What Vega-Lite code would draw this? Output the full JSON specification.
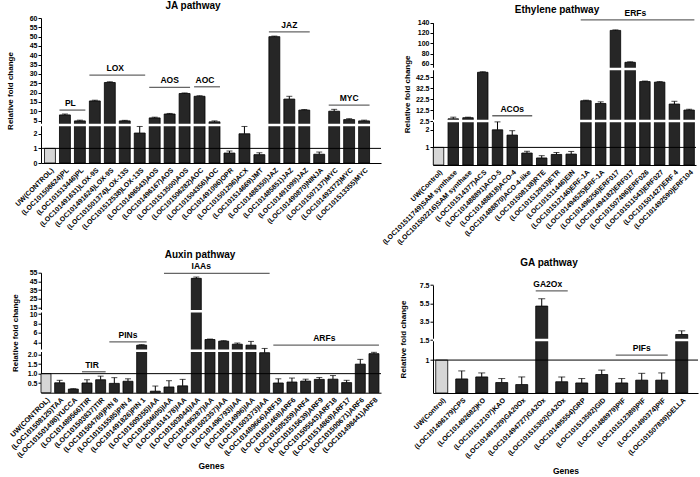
{
  "$schema": "https://vega.github.io/schema/vega-lite/v6.json",
  "padding": {"left": 6, "top": 1, "right": 0, "bottom": 0},
  "config": {
    "font": "Liberation Sans",
    "view": {"stroke": null},
    "axis": {"grid": false, "domainColor": "black", "tickColor": "black", "labelColor": "black", "titleColor": "black", "labelFontWeight": "bold", "titleFontWeight": "bold", "domainWidth": 1, "labelFont": "Liberation Sans", "titleFont": "Liberation Sans", "labelOverlap": false},
    "axisX": {"labelAngle": -45, "labelFontSize": 7, "ticks": false, "labelPadding": 3, "titleFontSize": 8.5, "titlePadding": 6, "labelOverlap": false},
    "axisY": {"labelFontSize": 7, "tickSize": 3, "titleFontSize": 8, "titlePadding": 4, "labelPadding": 1, "labelOverlap": false},
    "title": {"fontSize": 10, "fontWeight": "bold", "color": "black", "font": "Liberation Sans", "frame": "group", "anchor": "middle"},
    "text": {"font": "Liberation Sans"}
  },
  "datasets": {
    "ja": [
      {"gene": "UW(CONTROL)", "kind": "control", "v": 1},
      {"gene": "(LOC101508624)PL", "kind": "gene", "v": 8, "hi": 8.5},
      {"gene": "(LOC101513446)PL", "kind": "gene", "v": 4.8, "hi": 5.2},
      {"gene": "(LOC101491631)LOX-9S", "kind": "gene", "v": 15.5, "hi": 15.9},
      {"gene": "(LOC101491624)LOX-9S", "kind": "gene", "v": 25.4, "hi": 25.8},
      {"gene": "(LOC101501374)LOX-13S", "kind": "gene", "v": 4.8, "hi": 5.1},
      {"gene": "(LOC101512538)LOX-13S", "kind": "gene", "v": 2.05, "hi": 2.5},
      {"gene": "(LOC101496543)AOS", "kind": "gene", "v": 6.4, "hi": 6.8},
      {"gene": "(LOC101496167)AOS", "kind": "gene", "v": 8.5, "hi": 8.8},
      {"gene": "(LOC101513500)AOS", "kind": "gene", "v": 19.5, "hi": 19.8},
      {"gene": "(LOC101506282)AOC", "kind": "gene", "v": 18, "hi": 18.3},
      {"gene": "(LOC101504356)AOC", "kind": "gene", "v": 4.3, "hi": 4.8},
      {"gene": "(LOC101491096)OPR", "kind": "gene", "v": 0.68, "hi": 0.82},
      {"gene": "(LOC101501296)ACX", "kind": "gene", "v": 2.0, "hi": 2.5},
      {"gene": "(LOC101514669)JMT", "kind": "gene", "v": 0.57, "hi": 0.7},
      {"gene": "(LOC101488350)JAZ", "kind": "gene", "v": 50, "hi": 50.3},
      {"gene": "(LOC101485851)JAZ", "kind": "gene", "v": 16.5, "hi": 18},
      {"gene": "(LOC101491099)JAZ", "kind": "gene", "v": 10.6, "hi": 10.9},
      {"gene": "(LOC101490870)NINJA", "kind": "gene", "v": 0.6, "hi": 0.75},
      {"gene": "(LOC101507137)MYC", "kind": "gene", "v": 10, "hi": 11},
      {"gene": "(LOC101493372)MYC", "kind": "gene", "v": 5.5, "hi": 6},
      {"gene": "(LOC101513355)MYC", "kind": "gene", "v": 4.8, "hi": 5.2}
    ],
    "ja_ann": [
      {"g": "PL", "from": "(LOC101508624)PL", "to": "(LOC101513446)PL", "mid": "(LOC101508624)PL", "even": true, "y": 10.6},
      {"g": "LOX", "from": "(LOC101491631)LOX-9S", "to": "(LOC101512538)LOX-13S", "mid": "(LOC101491624)LOX-9S", "even": true, "y": 29.4},
      {"g": "AOS", "from": "(LOC101496543)AOS", "to": "(LOC101513500)AOS", "mid": "(LOC101496167)AOS", "even": false, "y": 22.8},
      {"g": "AOC", "from": "(LOC101506282)AOC", "to": "(LOC101504356)AOC", "mid": "(LOC101506282)AOC", "even": true, "y": 23.1},
      {"g": "JAZ", "from": "(LOC101488350)JAZ", "to": "(LOC101491099)JAZ", "mid": "(LOC101485851)JAZ", "even": false, "y": 52.6},
      {"g": "MYC", "from": "(LOC101507137)MYC", "to": "(LOC101513355)MYC", "mid": "(LOC101493372)MYC", "even": false, "y": 13.3}
    ],
    "eth": [
      {"gene": "UW(Control)", "kind": "control", "v": 1},
      {"gene": "(LOC101511749)SAM synthase", "kind": "gene", "v": 4.5, "hi": 6.0},
      {"gene": "(LOC101502216)SAM synthase", "kind": "gene", "v": 5.5, "hi": 6.0},
      {"gene": "(LOC101514377)ACS", "kind": "gene", "v": 47, "hi": 47.5},
      {"gene": "(LOC101488891)ACO-5", "kind": "gene", "v": 2.0, "hi": 2.45},
      {"gene": "(LOC101488818)ACO-4", "kind": "gene", "v": 1.7, "hi": 1.95},
      {"gene": "(LOC101488870)ACO-4-like", "kind": "gene", "v": 0.68, "hi": 0.78},
      {"gene": "(LOC101508138)RTE", "kind": "gene", "v": 0.4, "hi": 0.53},
      {"gene": "(LOC101512933)ETR", "kind": "gene", "v": 0.6, "hi": 0.71},
      {"gene": "(LOC101511446)EIN", "kind": "gene", "v": 0.62, "hi": 0.77},
      {"gene": "(LOC101512146)ERF-1A", "kind": "gene", "v": 21, "hi": 21.5},
      {"gene": "(LOC101494525)ERF-1A", "kind": "gene", "v": 18.5, "hi": 20},
      {"gene": "(LOC101496256)ERF017", "kind": "gene", "v": 125, "hi": 126},
      {"gene": "(LOC101494182)ERF017", "kind": "gene", "v": 63, "hi": 64},
      {"gene": "(LOC101507496)ERF026", "kind": "gene", "v": 38.5, "hi": 39},
      {"gene": "(LOC101511543)ERF027", "kind": "gene", "v": 38, "hi": 38.5},
      {"gene": "(LOC101501427)ERF 4", "kind": "gene", "v": 18, "hi": 20.5},
      {"gene": "(LOC101492590)ERF104", "kind": "gene", "v": 12.5, "hi": 13.3}
    ],
    "eth_ann": [
      {"g": "ACOs", "from": "(LOC101488891)ACO-5", "to": "(LOC101488870)ACO-4-like", "mid": "(LOC101488818)ACO-4", "even": false, "y": 7.3},
      {"g": "ERFs", "from": "(LOC101512146)ERF-1A", "to": "(LOC101492590)ERF104", "mid": "(LOC101494182)ERF017", "even": true, "y": 145.3}
    ],
    "aux": [
      {"gene": "UW(CONTROL)", "kind": "control", "v": 1},
      {"gene": "(LOC101508125)TAA", "kind": "gene", "v": 0.52, "hi": 0.65},
      {"gene": "(LOC101501498)YUCCA", "kind": "gene", "v": 0.19, "hi": 0.21},
      {"gene": "(LOC101489566)TIR", "kind": "gene", "v": 0.51, "hi": 0.68},
      {"gene": "(LOC101503837)TIR", "kind": "gene", "v": 0.68, "hi": 0.87},
      {"gene": "(LOC101504769)PIN 8", "kind": "gene", "v": 0.49, "hi": 0.79},
      {"gene": "(LOC101515585)PIN 4", "kind": "gene", "v": 0.6, "hi": 0.73},
      {"gene": "(LOC101491826)PIN 1", "kind": "gene", "v": 3.4, "hi": 3.5},
      {"gene": "(LOC101509355)IAA", "kind": "gene", "v": 0.08, "hi": 0.35},
      {"gene": "(LOC101504605)IAA", "kind": "gene", "v": 0.3, "hi": 0.63},
      {"gene": "(LOC101514178)IAA", "kind": "gene", "v": 0.36, "hi": 0.7},
      {"gene": "(LOC101503044)IAA", "kind": "gene", "v": 48.5, "hi": 50},
      {"gene": "(LOC101495287)IAA", "kind": "gene", "v": 4.6, "hi": 4.7},
      {"gene": "(LOC101502357)IAA", "kind": "gene", "v": 4.25, "hi": 4.35},
      {"gene": "(LOC101496793)IAA", "kind": "gene", "v": 3.6, "hi": 3.85},
      {"gene": "(LOC101514996)IAA", "kind": "gene", "v": 3.4, "hi": 4.2},
      {"gene": "(LOC101503373)IAA", "kind": "gene", "v": 2.1, "hi": 2.7},
      {"gene": "(LOC101489666)ARF19", "kind": "gene", "v": 0.51, "hi": 0.73},
      {"gene": "(LOC101501468)ARF6", "kind": "gene", "v": 0.56, "hi": 0.77},
      {"gene": "(LOC101505359)ARF4", "kind": "gene", "v": 0.61, "hi": 0.71},
      {"gene": "(LOC101515639)ARF9", "kind": "gene", "v": 0.7, "hi": 0.8},
      {"gene": "(LOC101505543)ARF18", "kind": "gene", "v": 0.71, "hi": 0.9},
      {"gene": "(LOC101514869)ARF17", "kind": "gene", "v": 0.53, "hi": 0.65},
      {"gene": "(LOC101500671)ARF6", "kind": "gene", "v": 1.5, "hi": 1.75},
      {"gene": "(LOC101498441)ARF8", "kind": "gene", "v": 2.05, "hi": 2.12}
    ],
    "aux_ann": [
      {"g": "TIR", "from": "(LOC101489566)TIR", "to": "(LOC101503837)TIR", "mid": "(LOC101489566)TIR", "even": true, "y": 1.1},
      {"g": "PINs", "from": "(LOC101504769)PIN 8", "to": "(LOC101491826)PIN 1", "mid": "(LOC101515585)PIN 4", "even": false, "y": 4.1},
      {"g": "IAAs", "from": "(LOC101504605)IAA", "to": "(LOC101503373)IAA", "mid": "(LOC101503044)IAA", "even": true, "y": 54.3},
      {"g": "ARFs", "from": "(LOC101489666)ARF19", "to": "(LOC101498441)ARF8", "mid": "(LOC101515639)ARF9", "even": true, "y": 3.4}
    ],
    "ga": [
      {"gene": "UW(Control)", "kind": "control", "v": 1},
      {"gene": "(LOC101496179)CPS", "kind": "gene", "v": 0.53, "hi": 0.73},
      {"gene": "(LOC101492682)KO", "kind": "gene", "v": 0.58, "hi": 0.68},
      {"gene": "(LOC101512107)KAO", "kind": "gene", "v": 0.44, "hi": 0.54},
      {"gene": "(LOC101491329)GA20Ox", "kind": "gene", "v": 0.39, "hi": 0.58},
      {"gene": "(LOC101494727)GA2Ox", "kind": "gene", "v": 5.2, "hi": 6.0},
      {"gene": "(LOC101515302)GA2Ox", "kind": "gene", "v": 0.46, "hi": 0.58},
      {"gene": "(LOC101495554)GRP", "kind": "gene", "v": 0.43, "hi": 0.54},
      {"gene": "(LOC101513592)GID", "kind": "gene", "v": 0.64, "hi": 0.75},
      {"gene": "(LOC101488979)PIF", "kind": "gene", "v": 0.43, "hi": 0.54},
      {"gene": "(LOC101512389)PIF", "kind": "gene", "v": 0.5, "hi": 0.67},
      {"gene": "(LOC101490374)PIF", "kind": "gene", "v": 0.5, "hi": 0.68},
      {"gene": "(LOC101507839)DELLA", "kind": "gene", "v": 2.1, "hi": 2.5}
    ],
    "ga_ann": [
      {"g": "GA2Ox", "from": "(LOC101494727)GA2Ox", "to": "(LOC101515302)GA2Ox", "mid": "(LOC101494727)GA2Ox", "even": true, "y": 6.85},
      {"g": "PIFs", "from": "(LOC101488979)PIF", "to": "(LOC101490374)PIF", "mid": "(LOC101512389)PIF", "even": false, "y": 1.125}
    ]
  },
  "bounds": "flush",
  "align": "each",
  "columns": 2,
  "spacing": {"row": 107.7, "column": 52},
  "concat": [
    {
      "title": {"text": "JA pathway", "dx": -18, "offset": 3},
      "width": 340, "height": 145,
      "layer": [
        {"data": {"name": "ja"}, "mark": {"type": "bar", "stroke": "black", "strokeWidth": 0.8},
         "encoding": {
           "x": {"field": "gene", "type": "nominal", "sort": null, "title": null, "scale": {"paddingInner": 0.27, "paddingOuter": 0.5, "align": 0.235}},
           "y": {"field": "v", "type": "quantitative", "title": "Relative fold change", "scale": {"domain": [0, 2.6, 60], "range": [145, 107, 0], "zero": false, "nice": false}, "axis": {"values": [0, 1, 2, 5, 10, 15, 20, 25, 30, 35, 40, 45, 50, 55, 60], "tickCount": 100, "labelExpr": "datum.value + ''", "labelOverlap": false, "titlePadding": 15}},
           "y2": {"datum": 0},
           "color": {"field": "kind", "type": "nominal", "scale": {"domain": ["control", "gene"], "range": ["#d6d6d6", "#262626"]}, "legend": null}
         }},
        {"data": {"values": [{}]}, "mark": {"type": "rule", "color": "white", "strokeWidth": 2.5}, "encoding": {"y": {"datum": 2.6, "type": "quantitative"}}},
        {"data": {"values": [{}]}, "mark": {"type": "rule", "color": "black", "strokeWidth": 1}, "encoding": {"y": {"datum": 1, "type": "quantitative"}}},
        {"data": {"name": "ja"}, "transform": [{"filter": "isValid(datum.hi)"}], "mark": {"type": "rule", "color": "black", "strokeWidth": 1}, "encoding": {"x": {"field": "gene", "type": "nominal", "sort": null}, "y": {"field": "v", "type": "quantitative"}, "y2": {"field": "hi"}}},
        {"data": {"name": "ja"}, "transform": [{"filter": "isValid(datum.hi)"}], "mark": {"type": "tick", "color": "black", "thickness": 1, "size": 6}, "encoding": {"x": {"field": "gene", "type": "nominal", "sort": null}, "y": {"field": "hi", "type": "quantitative"}}},
        {"data": {"name": "ja_ann"}, "mark": {"type": "rule", "color": "#666666", "strokeWidth": 1.3}, "encoding": {"x": {"field": "from", "type": "nominal", "sort": null, "bandPosition": 0}, "x2": {"field": "to", "bandPosition": 1}, "y": {"field": "y", "type": "quantitative"}}},
        {"data": {"name": "ja_ann"}, "transform": [{"filter": "datum.even"}], "mark": {"type": "text", "baseline": "bottom", "dy": -2, "fontSize": 8.5, "fontWeight": "bold"}, "encoding": {"x": {"field": "mid", "type": "nominal", "sort": null, "bandPosition": 1}, "y": {"field": "y", "type": "quantitative"}, "text": {"field": "g"}}},
        {"data": {"name": "ja_ann"}, "transform": [{"filter": "!datum.even"}], "mark": {"type": "text", "baseline": "bottom", "dy": -2, "fontSize": 8.5, "fontWeight": "bold"}, "encoding": {"x": {"field": "mid", "type": "nominal", "sort": null, "bandPosition": 0.5}, "y": {"field": "y", "type": "quantitative"}, "text": {"field": "g"}}}
      ]
    },
    {
      "title": {"text": "Ethylene pathway", "dx": -7.5, "offset": 3, "dy": 9},
      "width": 263, "height": 147,
      "layer": [
        {"data": {"name": "eth"}, "mark": {"type": "bar", "stroke": "black", "strokeWidth": 0.8},
         "encoding": {
           "x": {"field": "gene", "type": "nominal", "sort": null, "title": null, "scale": {"paddingInner": 0.29, "paddingOuter": 0.065, "align": 0.15}},
           "y": {"field": "v", "type": "quantitative", "title": "Relative fold change", "scale": {"domain": [0, 2.5, 50, 140], "range": [147, 103, 51, 4.7], "zero": false, "nice": false}, "axis": {"values": [1, 2, 2.5, 12.5, 22.5, 32.5, 42.5, 60, 80, 100, 120, 140], "tickCount": 100, "labelExpr": "datum.value + ''", "labelOverlap": false, "titlePadding": 4}},
           "y2": {"datum": 0},
           "color": {"field": "kind", "type": "nominal", "scale": {"domain": ["control", "gene"], "range": ["#d6d6d6", "#262626"]}, "legend": null}
         }},
        {"data": {"values": [{}]}, "mark": {"type": "rule", "color": "white", "strokeWidth": 2.5}, "encoding": {"y": {"datum": 2.5, "type": "quantitative"}}},
        {"data": {"values": [{}]}, "mark": {"type": "rule", "color": "white", "strokeWidth": 2.5}, "encoding": {"y": {"datum": 50, "type": "quantitative"}}},
        {"data": {"values": [{}]}, "mark": {"type": "rule", "color": "black", "strokeWidth": 1}, "encoding": {"y": {"datum": 1, "type": "quantitative"}}},
        {"data": {"name": "eth"}, "transform": [{"filter": "isValid(datum.hi)"}], "mark": {"type": "rule", "color": "black", "strokeWidth": 1}, "encoding": {"x": {"field": "gene", "type": "nominal", "sort": null}, "y": {"field": "v", "type": "quantitative"}, "y2": {"field": "hi"}}},
        {"data": {"name": "eth"}, "transform": [{"filter": "isValid(datum.hi)"}], "mark": {"type": "tick", "color": "black", "thickness": 1, "size": 6}, "encoding": {"x": {"field": "gene", "type": "nominal", "sort": null}, "y": {"field": "hi", "type": "quantitative"}}},
        {"data": {"name": "eth_ann"}, "mark": {"type": "rule", "color": "#666666", "strokeWidth": 1.3}, "encoding": {"x": {"field": "from", "type": "nominal", "sort": null, "bandPosition": 0}, "x2": {"field": "to", "bandPosition": 1}, "y": {"field": "y", "type": "quantitative"}}},
        {"data": {"name": "eth_ann"}, "transform": [{"filter": "datum.even"}], "mark": {"type": "text", "baseline": "bottom", "dy": -2, "fontSize": 8.5, "fontWeight": "bold"}, "encoding": {"x": {"field": "mid", "type": "nominal", "sort": null, "bandPosition": 1}, "y": {"field": "y", "type": "quantitative"}, "text": {"field": "g"}}},
        {"data": {"name": "eth_ann"}, "transform": [{"filter": "!datum.even"}], "mark": {"type": "text", "baseline": "bottom", "dy": -2, "fontSize": 8.5, "fontWeight": "bold"}, "encoding": {"x": {"field": "mid", "type": "nominal", "sort": null, "bandPosition": 0.5}, "y": {"field": "y", "type": "quantitative"}, "text": {"field": "g"}}}
      ]
    },
    {
      "title": {"text": "Auxin pathway", "dx": -11, "offset": 2},
      "width": 340, "height": 120,
      "layer": [
        {"data": {"name": "aux"}, "mark": {"type": "bar", "stroke": "black", "strokeWidth": 0.8},
         "encoding": {
           "x": {"field": "gene", "type": "nominal", "sort": null, "title": "Genes", "scale": {"paddingInner": 0.27, "paddingOuter": 0.075, "align": 0}, "axis": {"labelFontSize": 7.2, "titlePadding": 3}},
           "y": {"field": "v", "type": "quantitative", "title": "Relative fold change", "scale": {"domain": [0, 2.2, 10.6, 55], "range": [120, 78.1, 38.6, 0], "zero": false, "nice": false}, "axis": {"values": [0.5, 1, 1.5, 2, 4, 6, 8, 10, 15, 25, 35, 45, 55], "tickCount": 100, "labelExpr": "datum.value < 2.1 ? format(datum.value, '.1f') : format(datum.value, 'd')", "labelOverlap": false, "titlePadding": 8}},
           "y2": {"datum": 0},
           "color": {"field": "kind", "type": "nominal", "scale": {"domain": ["control", "gene"], "range": ["#d6d6d6", "#262626"]}, "legend": null}
         }},
        {"data": {"values": [{}]}, "mark": {"type": "rule", "color": "white", "strokeWidth": 2.5}, "encoding": {"y": {"datum": 2.2, "type": "quantitative"}}},
        {"data": {"values": [{}]}, "mark": {"type": "rule", "color": "white", "strokeWidth": 2.5}, "encoding": {"y": {"datum": 10.6, "type": "quantitative"}}},
        {"data": {"values": [{}]}, "mark": {"type": "rule", "color": "black", "strokeWidth": 1}, "encoding": {"y": {"datum": 1, "type": "quantitative"}}},
        {"data": {"name": "aux"}, "transform": [{"filter": "isValid(datum.hi)"}], "mark": {"type": "rule", "color": "black", "strokeWidth": 1}, "encoding": {"x": {"field": "gene", "type": "nominal", "sort": null}, "y": {"field": "v", "type": "quantitative"}, "y2": {"field": "hi"}}},
        {"data": {"name": "aux"}, "transform": [{"filter": "isValid(datum.hi)"}], "mark": {"type": "tick", "color": "black", "thickness": 1, "size": 6}, "encoding": {"x": {"field": "gene", "type": "nominal", "sort": null}, "y": {"field": "hi", "type": "quantitative"}}},
        {"data": {"name": "aux_ann"}, "mark": {"type": "rule", "color": "#666666", "strokeWidth": 1.3}, "encoding": {"x": {"field": "from", "type": "nominal", "sort": null, "bandPosition": 0}, "x2": {"field": "to", "bandPosition": 1}, "y": {"field": "y", "type": "quantitative"}}},
        {"data": {"name": "aux_ann"}, "transform": [{"filter": "datum.even"}], "mark": {"type": "text", "baseline": "bottom", "dy": -2, "fontSize": 8.5, "fontWeight": "bold"}, "encoding": {"x": {"field": "mid", "type": "nominal", "sort": null, "bandPosition": 1}, "y": {"field": "y", "type": "quantitative"}, "text": {"field": "g"}}},
        {"data": {"name": "aux_ann"}, "transform": [{"filter": "!datum.even"}], "mark": {"type": "text", "baseline": "bottom", "dy": -2, "fontSize": 8.5, "fontWeight": "bold"}, "encoding": {"x": {"field": "mid", "type": "nominal", "sort": null, "bandPosition": 0.5}, "y": {"field": "y", "type": "quantitative"}, "text": {"field": "g"}}}
      ]
    },
    {
      "title": {"text": "GA pathway", "dx": -16.5, "offset": 5},
      "width": 265, "height": 120.3,
      "layer": [
        {"data": {"name": "ga"}, "mark": {"type": "bar", "stroke": "black", "strokeWidth": 0.8},
         "encoding": {
           "x": {"field": "gene", "type": "nominal", "sort": null, "title": "Genes", "scale": {"paddingInner": 0.4, "paddingOuter": 0.325, "align": 0.21}, "axis": {"titlePadding": 7}},
           "y": {"field": "v", "type": "quantitative", "title": "Relative fold change", "scale": {"domain": [0.18, 1.5, 7.5], "range": [120.3, 67.3, 12.3], "zero": false, "nice": false}, "axis": {"values": [1, 1.5, 3.5, 5.5, 7.5], "tickCount": 100, "labelExpr": "datum.value + ''", "labelOverlap": false, "titlePadding": 12}},
           "y2": {"datum": 0.18},
           "color": {"field": "kind", "type": "nominal", "scale": {"domain": ["control", "gene"], "range": ["#d6d6d6", "#262626"]}, "legend": null}
         }},
        {"data": {"values": [{}]}, "mark": {"type": "rule", "color": "white", "strokeWidth": 2.5}, "encoding": {"y": {"datum": 1.5, "type": "quantitative"}}},
        {"data": {"values": [{}]}, "mark": {"type": "rule", "color": "black", "strokeWidth": 1}, "encoding": {"y": {"datum": 1, "type": "quantitative"}}},
        {"data": {"name": "ga"}, "transform": [{"filter": "isValid(datum.hi)"}], "mark": {"type": "rule", "color": "black", "strokeWidth": 1}, "encoding": {"x": {"field": "gene", "type": "nominal", "sort": null}, "y": {"field": "v", "type": "quantitative"}, "y2": {"field": "hi"}}},
        {"data": {"name": "ga"}, "transform": [{"filter": "isValid(datum.hi)"}], "mark": {"type": "tick", "color": "black", "thickness": 1, "size": 7}, "encoding": {"x": {"field": "gene", "type": "nominal", "sort": null}, "y": {"field": "hi", "type": "quantitative"}}},
        {"data": {"name": "ga_ann"}, "mark": {"type": "rule", "color": "#666666", "strokeWidth": 1.3}, "encoding": {"x": {"field": "from", "type": "nominal", "sort": null, "bandPosition": 0}, "x2": {"field": "to", "bandPosition": 1}, "y": {"field": "y", "type": "quantitative"}}},
        {"data": {"name": "ga_ann"}, "transform": [{"filter": "datum.even"}], "mark": {"type": "text", "baseline": "bottom", "dy": -2, "fontSize": 8.5, "fontWeight": "bold"}, "encoding": {"x": {"field": "mid", "type": "nominal", "sort": null, "bandPosition": 1}, "y": {"field": "y", "type": "quantitative"}, "text": {"field": "g"}}},
        {"data": {"name": "ga_ann"}, "transform": [{"filter": "!datum.even"}], "mark": {"type": "text", "baseline": "bottom", "dy": -2, "fontSize": 8.5, "fontWeight": "bold"}, "encoding": {"x": {"field": "mid", "type": "nominal", "sort": null, "bandPosition": 0.5}, "y": {"field": "y", "type": "quantitative"}, "text": {"field": "g"}}}
      ]
    }
  ]
}
